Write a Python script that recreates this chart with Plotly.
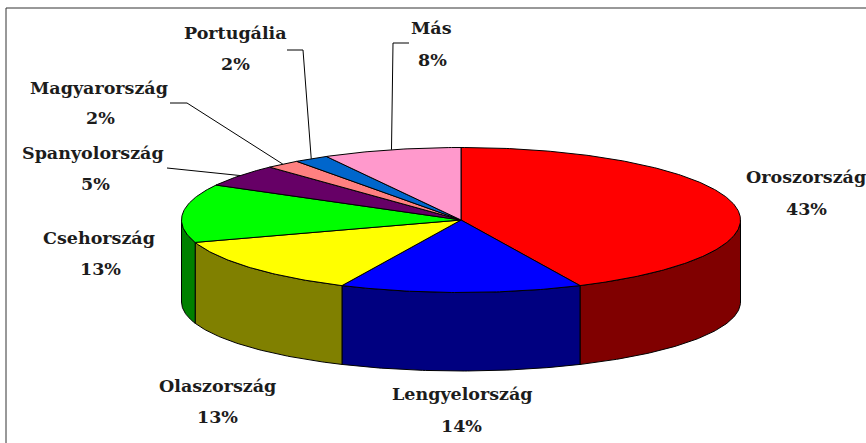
import math
import plotly.graph_objects as go

countries = ["Oroszország", "Lengyelország", "Olaszország", "Csehország",
             "Spanyolország", "Magyarország", "Portugália", "Más"]
shares = [43, 14, 13, 13, 5, 2, 2, 8]
top_colors = ["#FF0000", "#0000FF", "#FFFF00", "#00FF00", "#660066", "#FF8080", "#0066CC", "#FF99CC"]
side_colors = ["#800000", "#000080", "#808000", "#008000", "#330033", "#804040", "#003366", "#804C66"]

# label layout, in pixels of the page
name_pos = [(806, 177), (462, 394), (217, 386), (99, 238), (93, 153), (99, 88), (235, 33), (431, 28)]
pct_pos = [(806, 209), (461, 426), (217, 417), (100, 269), (95, 184), (100, 118), (235, 64), (432, 60)]
leader_start = {4: [(167, 168), (185, 170)], 5: [(170, 103), (187, 103)],
                6: [(287, 50), (303, 50)], 7: [(409, 43), (393, 43)]}

CX, CY, RX, RY = 461, 220, 279.5, 72.5
FLOOR_CY, FLOOR_RY = 302, 69
WIDTH, HEIGHT = 866, 443


def pt(t_deg, cy=CY, ry=RY):
    t = math.radians(t_deg)
    return CX + RX * math.sin(t), cy - ry * math.cos(t)


def arc(a, b, cy=CY, ry=RY):
    n = max(2, int(abs(b - a) * 1.5) + 2)
    return [pt(a + (b - a) * i / (n - 1), cy, ry) for i in range(n)]


fig = go.Figure()


def poly(points, fill, close=True, width=1.0, color="#000000"):
    if close:
        points = points + [points[0]]
    fig.add_trace(go.Scatter(
        x=[p[0] for p in points], y=[p[1] for p in points], mode="lines",
        fill="toself" if fill else None, fillcolor=fill,
        line=dict(color=color, width=width), hoverinfo="skip", showlegend=False))


total = sum(shares)
angles = [0]
for s in shares:
    angles.append(angles[-1] + 360 * s / total)

# side walls, only the front half of the cake shows
for i, col in enumerate(side_colors):
    a, b = max(angles[i], 90), min(angles[i + 1], 270)
    if a < b:
        poly(arc(a, b) + arc(b, a, FLOOR_CY, FLOOR_RY), col)

# top faces
for i, col in enumerate(top_colors):
    poly([(CX, CY)] + arc(angles[i], angles[i + 1]), col)

# leader lines, ending on the rim at the middle of each slice
for i, start in leader_start.items():
    poly(start + [pt((angles[i] + angles[i + 1]) / 2)], None, close=False)

ann = []
FONT = dict(family="DejaVu Serif", size=17.5, color="#1c1c1c")
for i, name in enumerate(countries):
    ann.append(dict(x=name_pos[i][0], y=name_pos[i][1], text=f"<b>{name}</b>",
                    showarrow=False, font=FONT, xanchor="center", yanchor="middle"))
    ann.append(dict(x=pct_pos[i][0], y=pct_pos[i][1], text=f"<b>{shares[i]}%</b>",
                    showarrow=False, font=FONT, xanchor="center", yanchor="middle"))

fig.update_layout(
    width=WIDTH, height=HEIGHT, margin=dict(l=0, r=0, t=0, b=0),
    paper_bgcolor="white", plot_bgcolor="white", showlegend=False,
    xaxis=dict(range=[0, WIDTH], visible=False, fixedrange=True),
    yaxis=dict(range=[HEIGHT, 0], visible=False, fixedrange=True),
    annotations=ann,
    shapes=[
        dict(type="line", x0=6, x1=WIDTH, y0=8, y1=8, line=dict(color="#333333", width=1)),
        dict(type="line", x0=6, x1=6, y0=8, y1=HEIGHT, line=dict(color="#333333", width=1)),
    ],
)
fig.write_html("out.html", config=dict(displayModeBar=False),
               post_script="document.body.style.margin='0';document.documentElement.style.overflow='hidden';")
